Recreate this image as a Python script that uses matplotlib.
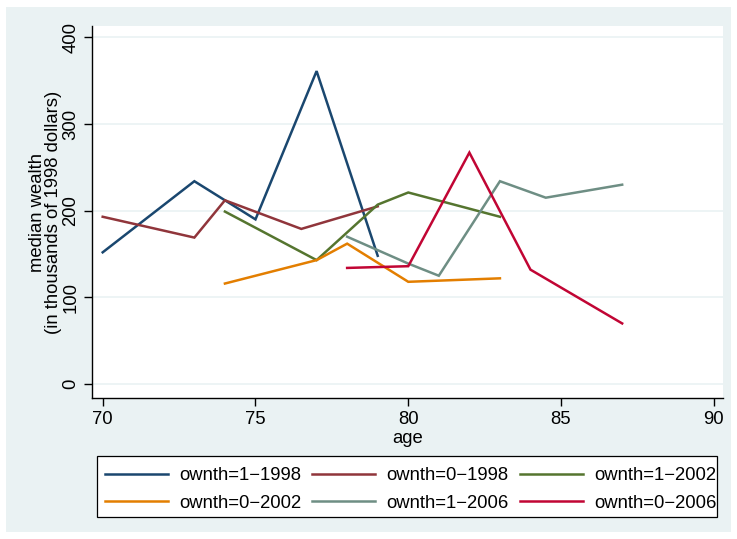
import matplotlib
matplotlib.use("Agg")
import matplotlib.pyplot as plt
from matplotlib.patches import Rectangle

plt.rcParams['font.family'] = ['Liberation Sans', 'DejaVu Sans']

# median wealth by age, thousands of 1998 dollars
age_own1_1998 = [70, 73, 75, 77, 79]
val_own1_1998 = [152, 234, 190, 361, 148]

age_own0_1998 = [70, 73, 74, 76.5, 79]
val_own0_1998 = [193, 169, 212, 179, 205]

age_own1_2002 = [74, 77, 79, 80, 83]
val_own1_2002 = [199, 143, 207, 221, 193]

age_own0_2002 = [74, 77, 78, 80, 83]
val_own0_2002 = [116, 143, 162, 118, 122]

age_own1_2006 = [78, 80, 81, 83, 84.5, 87]
val_own1_2006 = [170, 139, 125, 234, 215, 230]

age_own0_2006 = [78, 80, 82, 84, 87]
val_own0_2006 = [134, 136, 267, 132, 70]

series = [
    ("ownth=1\u22121998", age_own1_1998, val_own1_1998, "#1a476f"),
    ("ownth=0\u22121998", age_own0_1998, val_own0_1998, "#90353b"),
    ("ownth=1\u22122002", age_own1_2002, val_own1_2002, "#55752f"),
    ("ownth=0\u22122002", age_own0_2002, val_own0_2002, "#e37e00"),
    ("ownth=1\u22122006", age_own1_2006, val_own1_2006, "#6e8e84"),
    ("ownth=0\u22122006", age_own0_2006, val_own0_2006, "#c10534"),
]

W, H = 737, 539
FS = 13.3
fig = plt.figure(figsize=(W / 100, H / 100), dpi=100, facecolor="white")

# graph region background
fig.patches.append(Rectangle((6 / W, 1 - 532 / H), 725 / W, 525 / H,
                             transform=fig.transFigure, facecolor="#eaf2f3",
                             edgecolor="none", zorder=-10))

ax = fig.add_axes([92 / W, 1 - 398 / H, 631 / W, 372 / H], zorder=1)
ax.set_facecolor("white")

handles = []
for label, x, y, c in series:
    h, = ax.plot(x, y, color=c, lw=1.8, label=label, solid_joinstyle="miter")
    handles.append(h)

ax.set_xlim(69.65, 90.3)
ax.set_ylim(-16, 413)
ax.set_xticks([70, 75, 80, 85, 90])
ax.set_yticks([0, 100, 200, 300, 400])
ax.grid(axis="y", color="#eaf2f3", lw=1.2)
ax.set_axisbelow(True)

for s in ["top", "right"]:
    ax.spines[s].set_visible(False)
for s in ["left", "bottom"]:
    ax.spines[s].set_color("black")
    ax.spines[s].set_linewidth(1.0)

ax.tick_params(axis="both", direction="out", length=6, width=1, labelsize=FS)
ax.tick_params(axis="y", pad=3)
for t in ax.get_yticklabels():
    t.set_rotation(90)
    t.set_va("center")

ax.set_xlabel("age", fontsize=FS, labelpad=1)
ax.set_ylabel("median wealth\n(in thousands of 1998 dollars)", fontsize=FS,
              labelpad=0, linespacing=0.95)

# legend box, with entries filled row by row
fig.patches.append(Rectangle((97 / W, 1 - 517 / H), 620 / W, 61 / H,
                             transform=fig.transFigure, facecolor="white",
                             edgecolor="black", lw=0.9, zorder=1))
order = [0, 3, 1, 4, 2, 5]
leg = fig.legend([handles[i] for i in order], [series[i][0] for i in order],
                 loc="center left", bbox_to_anchor=(105 / W, 1 - 489.5 / H),
                 ncol=3, fontsize=FS, frameon=False,
                 handlelength=3.4, handletextpad=0.62, columnspacing=0.6,
                 borderaxespad=0, borderpad=0, labelspacing=0.55)
leg.set_zorder(2)

fig.savefig("out.png", dpi=100, facecolor="white")
